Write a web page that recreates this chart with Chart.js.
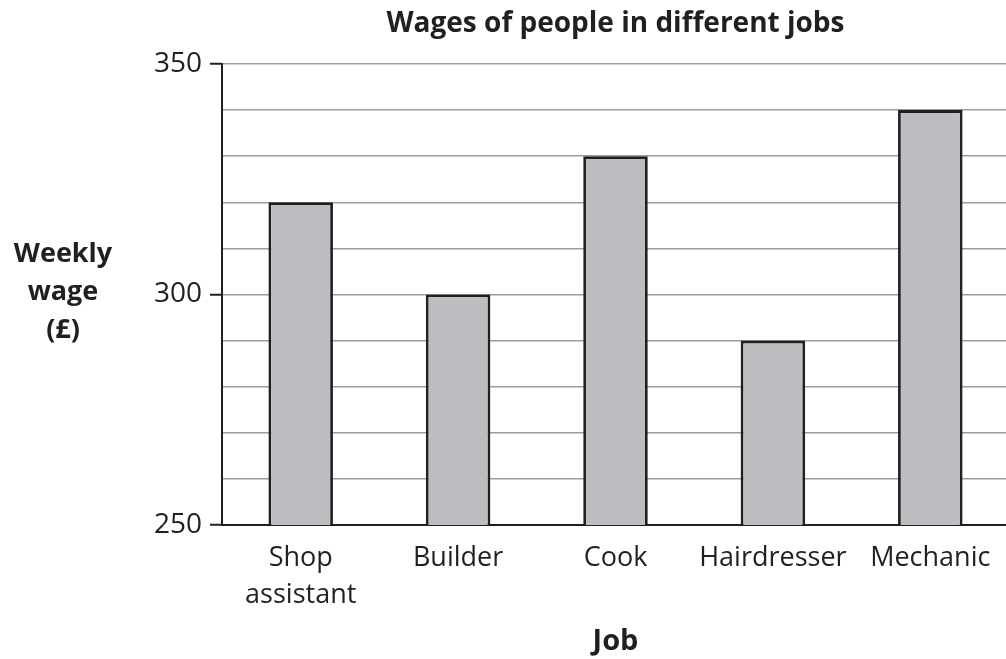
<!DOCTYPE html>
<html>
<head>
<meta charset="utf-8">
<script src="https://cdn.jsdelivr.net/npm/chart.js@4/dist/chart.umd.min.js"></script>
<style>
    body { margin: 0; overflow: hidden; background: #fff; }
    #wrap { width: 1009px; height: 659px; }
</style>
</head>
<body>
<div id="wrap"><canvas id="wage-chart" width="1009" height="659"></canvas></div>
<script>
const jobs = [['Shop', 'assistant'], 'Builder', 'Cook', 'Hairdresser', 'Mechanic'];
const wages = [320, 300, 330, 290, 340];
const yMin = 250;
const yMax = 350;
const yLabelled = [250, 300, 350];

const fontFamily = '"Open Sans", "Noto Sans", sans-serif';
const ink = '#231f20';

// y axis title, drawn as three stacked lines left of the axis
const yTitlePlugin = {
    id: 'yTitle',
    afterDraw(chart) {
        const c = chart.ctx;
        c.save();
        c.font = 'bold 27px ' + fontFamily;
        c.fillStyle = ink;
        c.textAlign = 'center';
        c.textBaseline = 'middle';
        ['Weekly', 'wage', '(£)'].forEach((t, i) => {
            c.fillText(t, 63, 254 + i * 38);
        });
        c.restore();
    }
};

const ctx = document.getElementById('wage-chart').getContext('2d');

new Chart(ctx, {
    type: 'bar',
    data: {
        labels: jobs,
        datasets: [{
            data: wages,
            backgroundColor: '#bcbdc0',
            borderColor: '#231f20',
            borderWidth: 2.8,
            borderSkipped: 'bottom',
            categoryPercentage: 1,
            barPercentage: 0.41
        }]
    },
    options: {
        responsive: false,
        animation: false,
        layout: {
            padding: { left: 10, right: 0, top: 0, bottom: 0 }
        },
        plugins: {
            legend: { display: false },
            tooltip: { enabled: false },
            title: {
                display: true,
                text: 'Wages of people in different jobs',
                fullSize: false,
                color: ink,
                font: { family: fontFamily, size: 28, weight: 'bold', lineHeight: 1.2 },
                padding: { top: 7, bottom: 23.4 }
            }
        },
        scales: {
            x: {
                afterFit: (s) => { s.height = 134; },
                grid: { display: false },
                border: { color: ink, width: 2 },
                ticks: {
                    color: ink,
                    font: { family: fontFamily, size: 27, lineHeight: 1.4 },
                    padding: 6,
                    maxRotation: 0,
                    autoSkip: false
                },
                title: {
                    display: true,
                    text: 'Job',
                    color: ink,
                    font: { family: fontFamily, size: 29, weight: 'bold', lineHeight: 1.2 },
                    padding: { top: 8, bottom: 0 }
                }
            },
            y: {
                min: yMin,
                max: yMax,
                afterFit: (s) => { s.width = 212; },
                border: { color: ink, width: 2 },
                grid: {
                    color: '#9d9d9d',
                    lineWidth: 1.5,
                    tickLength: 12,
                    tickColor: (c) => yLabelled.includes(c.tick.value) ? ink : 'rgba(0,0,0,0)',
                    tickWidth: 2
                },
                ticks: {
                    stepSize: 10,
                    color: ink,
                    padding: 8,
                    font: { family: fontFamily, size: 28 },
                    callback: (v) => yLabelled.includes(v) ? v : ''
                }
            }
        }
    },
    plugins: [yTitlePlugin]
});
</script>
</body>
</html>
